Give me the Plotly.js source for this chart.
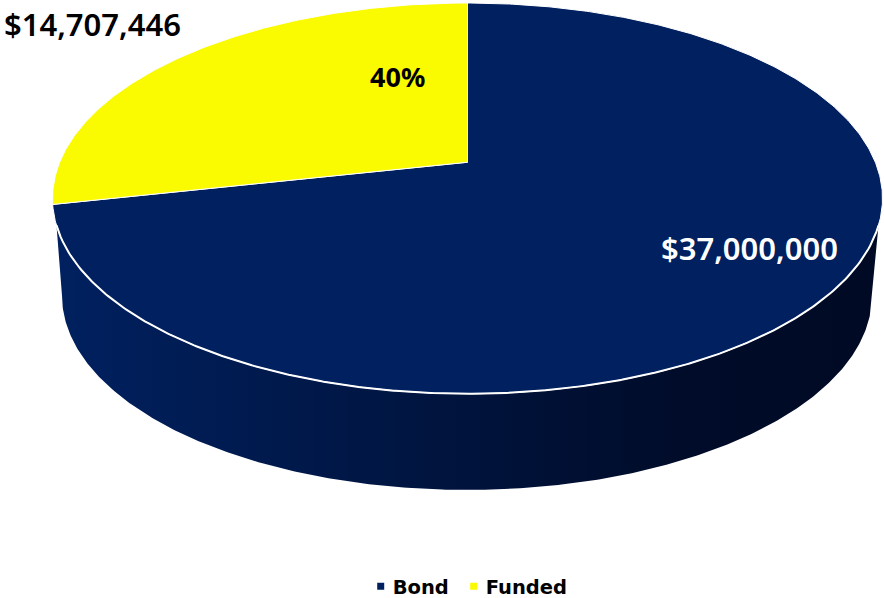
<!DOCTYPE html>
<html>
<head>
<meta charset="utf-8">
<script src="https://cdn.plot.ly/plotly-3.0.1.min.js"></script>
<style>html,body{margin:0;padding:0;background:#fff}#chart{width:884px;height:598px}</style>
</head>
<body>
<div id="chart"></div>
<script>
const categories = ["Bond", "Funded"];
const values = [37000000, 14707446];
const sliceColors = ["#002060", "#FAFA00"];
const valueLabels = ["$37,000,000", "$14,707,446"];
const percentLabel = "40%";

// Tilted-disc projection: slice angles come from the values.
const top3d = {cx: 467.5, cy: 198, rx: 415, ry: 195, k: 0.185};
const bottom3d = {cx: 467, cy: 295, rx: 405, ry: 194};
const total = values.reduce((a, b) => a + b, 0);

function project(deg) {
  const t = deg * Math.PI / 180, u = Math.sin(t), v = Math.cos(t), k = top3d.k;
  const d = 1 + k * v;
  return [top3d.cx + top3d.rx * u * Math.sqrt(1 - k * k) / d,
          top3d.cy - top3d.ry * (v + k) / d];
}
function wedge(a0, a1) {
  const xs = [], ys = [];
  const c = [top3d.cx, top3d.cy - top3d.ry * top3d.k];
  xs.push(c[0]); ys.push(c[1]);
  for (let a = a0; a < a1; a += 0.5) { const p = project(a); xs.push(p[0]); ys.push(p[1]); }
  const e = project(a1); xs.push(e[0]); ys.push(e[1]);
  xs.push(c[0]); ys.push(c[1]);
  return {xs, ys};
}

const traces = [];

// Side wall
const rimY = 225;
const rimHalf = top3d.rx * Math.sqrt(1 - Math.pow((rimY - top3d.cy) / top3d.ry, 2));
const wallX = [], wallY = [], rimX = [], rimYs = [];
for (let x = -rimHalf; x <= rimHalf + 0.01; x += rimHalf / 200) {
  const px = top3d.cx + x;
  const py = top3d.cy + top3d.ry * Math.sqrt(Math.max(0, 1 - (x / top3d.rx) * (x / top3d.rx)));
  rimX.push(px); rimYs.push(py);
  wallX.push(px); wallY.push(py);
}
for (let a = 0; a <= 180; a += 0.5) {
  const t = a * Math.PI / 180;
  wallX.push(bottom3d.cx + bottom3d.rx * Math.cos(t));
  wallY.push(bottom3d.cy + bottom3d.ry * Math.sin(t));
}
wallX.push(wallX[0]); wallY.push(wallY[0]);
traces.push({
  type: "scatter", mode: "lines", x: wallX, y: wallY, fill: "toself",
  line: {width: 0, color: "rgba(0,0,0,0)"}, showlegend: false, hoverinfo: "skip",
  fillgradient: {type: "horizontal",
    colorscale: [[0, "#00205f"], [0.25, "#001a4e"], [0.5, "#00133c"], [0.75, "#000c2a"], [1, "#000a24"]]}
});

// Top-face slices
let running = 0;
values.forEach((v, i) => {
  const a0 = running / total * 360;
  running += v;
  const a1 = running / total * 360;
  const w = wedge(a0, a1);
  traces.push({
    type: "scatter", mode: "lines", x: w.xs, y: w.ys, fill: "toself",
    fillcolor: sliceColors[i], line: {color: "#ffffff", width: 1},
    name: categories[i], showlegend: false, hoverinfo: "name"
  });
});

// White rim on the front edge
traces.push({type: "scatter", mode: "lines", x: rimX, y: rimYs,
  line: {color: "#ffffff", width: 2}, showlegend: false, hoverinfo: "skip"});

// Legend keys
categories.forEach((c, i) => {
  traces.push({type: "scatter", mode: "markers", x: [null], y: [null], name: c,
    marker: {symbol: "square", size: 7, color: sliceColors[i]}});
});

const fontFam = '"Noto Sans", sans-serif';
const layout = {
  width: 884, height: 598,
  margin: {l: 0, r: 0, t: 0, b: 0},
  paper_bgcolor: "#ffffff", plot_bgcolor: "#ffffff",
  xaxis: {range: [0, 884], visible: false, fixedrange: true},
  yaxis: {range: [566, 0], visible: false, fixedrange: true},
  showlegend: true,
  legend: {orientation: "h", xref: "container", yref: "container",
    x: 0.537, xanchor: "center", y: 0.019, yanchor: "middle",
    font: {family: '"DejaVu Sans", sans-serif', size: 19.5, color: "#000000", weight: 700},
    bgcolor: "rgba(0,0,0,0)", itemwidth: 30},
  annotations: [
    {x: 749, y: 247, xref: "x", yref: "y", text: valueLabels[0], showarrow: false,
      font: {family: fontFam, size: 31, color: "#ffffff", weight: 600}},
    {x: 92, y: 24, xref: "x", yref: "y", text: valueLabels[1], showarrow: false,
      font: {family: fontFam, size: 31, color: "#000000", weight: 600}},
    {x: 397, y: 76, xref: "x", yref: "y", text: percentLabel, showarrow: false,
      font: {family: fontFam, size: 27, color: "#000000", weight: 700}}
  ]
};
Plotly.newPlot("chart", traces, layout, {displayModeBar: false, staticPlot: true}).then(function (gd) {
  // Tighten the legend: keys sit closer to their labels than Plotly's default.
  gd.querySelectorAll(".legend .legendtext").forEach(function (t) {
    t.setAttribute("x", parseFloat(t.getAttribute("x")) - 8);
  });
  const items = gd.querySelectorAll(".legend .traces");
  if (items[1]) {
    const re = /translate\(([-\d.]+),\s*([-\d.]+)\)/;
    const a = re.exec(items[0].getAttribute("transform"));
    const b = re.exec(items[1].getAttribute("transform"));
    if (a && b) items[1].setAttribute("transform", "translate(" + (parseFloat(a[1]) + 93) + "," + b[2] + ")");
  }
});
</script>
</body>
</html>
